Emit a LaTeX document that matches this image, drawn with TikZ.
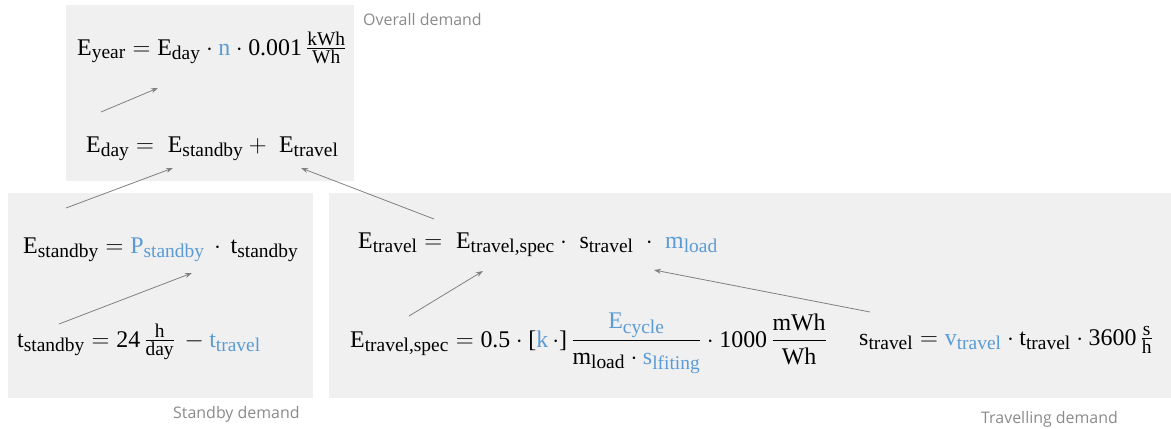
\documentclass[tikz,border=0pt]{standalone}
\usepackage{amsmath}
\usepackage{fontspec}
\setmainfont{Liberation Serif}
\setmathrm{Liberation Serif}
\newfontfamily\capfont{Open Sans}
\DeclareMathSizes{24}{24}{19.5}{14}
\usetikzlibrary{arrows.meta}
\definecolor{boxgray}{HTML}{F0F0F0}
\definecolor{linkgray}{HTML}{808080}
\definecolor{capgray}{HTML}{8A8A8A}
\definecolor{param}{HTML}{5B9BD5}
% quantity with upright subscript; parameters are set in blue
\newcommand\q[2]{\text{#1}_{\text{#2}}}
\newcommand\p[2]{{\color{param}\text{#1}_{\text{#2}}}}
\tikzset{
  area/.style={fill=boxgray, draw=none},
  eq/.style={anchor=base west, inner sep=0pt, font=\fontsize{24}{28}\selectfont},
  caption/.style={anchor=base west, inner sep=0pt, text=capgray,
    font=\capfont\fontsize{16}{19}\selectfont},
  link/.style={draw=linkgray, line width=0.8bp, -{Stealth[length=7bp,width=5bp]}}
}
\begin{document}
\begin{tikzpicture}[x=1bp,y=-1bp]
\useasboundingbox (0,0) rectangle (1171,428);

% grouping areas
\fill[area] (66,5) rectangle (354,181);
\fill[area] (8,193) rectangle (313,398);
\fill[area] (329,193) rectangle (1171,398);

% overall demand
\node[eq] (eyear) at (77,55)
  {$\q{E}{year} = \q{E}{day}\cdot{\color{param}\text{n}}\cdot\text{0.001}\,\frac{\text{kWh}}{\text{Wh}}$};
\node[eq] (eday) at (86,152)
  {$\q{E}{day} =\; \q{E}{standby} +\; \q{E}{travel}$};

% standby demand
\node[eq] (estb) at (23,253)
  {$\q{E}{standby} = \p{P}{standby}\,\cdot\,\q{t}{standby}$};
\node[eq] (tstb) at (17,347)
  {$\q{t}{standby} = \text{24}\,\frac{\text{h}}{\text{day}}\, - \p{t}{travel}$};

% travelling demand
\node[eq] (etr) at (358,248)
  {$\q{E}{travel} =\; \q{E}{travel,spec}\cdot\; \q{s}{travel}\;\cdot\; \p{m}{load}$};
\node[eq] (etrs) at (350,347)
  {$\q{E}{travel,spec} = \text{0.5}\cdot\text{[}{\color{param}\text{k}}\,{\cdot}\text{]}\,\dfrac{\p{E}{cycle}}{\q{m}{load}\cdot\p{s}{lfiting}}\cdot\text{1000}\,\dfrac{\text{mWh}}{\text{Wh}}$};
\node[eq] (strv) at (859,345)
  {$\q{s}{travel} = \p{v}{travel}\cdot\q{t}{travel}\cdot\text{3600}\,\frac{\text{s}}{\text{h}}$};

% captions
\node[caption] (capall) at (363,25) {Overall demand};
\node[caption] (capstb) at (173,418) {Standby demand};
\node[caption] (captrv) at (981,423) {Travelling demand};

% dependency arrows
\coordinate (dayT) at (101,112);   \coordinate (dayH) at (158,88);
\coordinate (stbT) at (66,208);    \coordinate (stbH) at (173,168);
\coordinate (trvT) at (434,219);   \coordinate (trvH) at (301,168);
\coordinate (tsbT) at (59,324);    \coordinate (tsbH) at (192,273);
\coordinate (spcT) at (409,316);   \coordinate (spcH) at (483,271);
\coordinate (strT) at (870,312);   \coordinate (strH) at (654,270);
\draw[link] (dayT) -- (dayH);
\draw[link] (stbT) -- (stbH);
\draw[link] (trvT) -- (trvH);
\draw[link] (tsbT) -- (tsbH);
\draw[link] (spcT) -- (spcH);
\draw[link] (strT) -- (strH);
\end{tikzpicture}
\end{document}
